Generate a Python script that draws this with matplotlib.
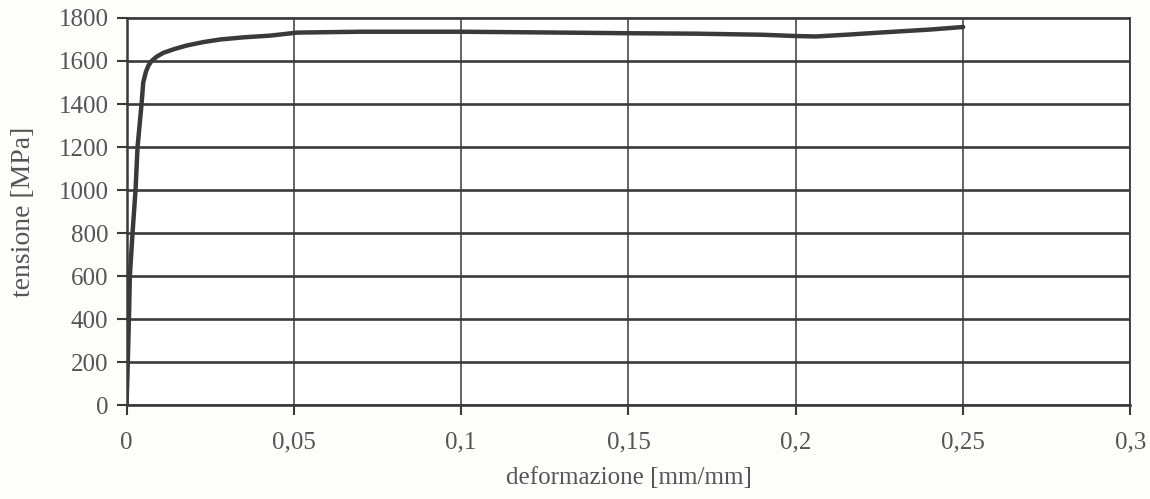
import numpy as np
import matplotlib.pyplot as plt
from matplotlib.ticker import FuncFormatter

# curva tensione-deformazione
deformazione = [0, 0.0003, 0.0008, 0.0010, 0.0018, 0.0027, 0.0033, 0.0045,
                0.0050, 0.0058, 0.0066, 0.0075, 0.0090, 0.0110, 0.0144, 0.018,
                0.023, 0.028, 0.035, 0.043, 0.051, 0.070, 0.100, 0.130,
                0.150, 0.170, 0.190, 0.200, 0.206, 0.215, 0.225, 0.240, 0.250]
tensione = [0, 150, 450, 600, 800, 1000, 1200, 1400,
            1500, 1550, 1580, 1600, 1620, 1638, 1656, 1672,
            1688, 1700, 1710, 1718, 1732, 1736, 1736, 1732,
            1729, 1727, 1722, 1716, 1714, 1722, 1732, 1746, 1758]

x_ticks = [0, 0.05, 0.1, 0.15, 0.2, 0.25, 0.3]
y_ticks = list(range(0, 1801, 200))

ink = '#3a3a3a'
grey = '#555555'
plt.rcParams['font.family'] = ['Liberation Serif', 'DejaVu Serif']

fig = plt.figure(figsize=(11.5, 4.99), dpi=100)
ax = fig.add_axes([0.110, 0.188, 0.873, 0.776])

ax.plot(deformazione, tensione, color=ink, lw=3.2, solid_capstyle='round',
        solid_joinstyle='round', zorder=3)

ax.set_xlim(0, 0.3)
ax.set_ylim(0, 1800)
ax.set_xticks(x_ticks)
ax.set_yticks(y_ticks)
ax.xaxis.set_major_formatter(FuncFormatter(lambda v, p: ('%g' % v).replace('.', ',')))

ax.grid(axis='y', color=ink, lw=1.9)
ax.grid(axis='x', color=ink, lw=1.1)
ax.set_axisbelow(True)
for s in ax.spines.values():
    s.set_color(ink)
    s.set_linewidth(1.3)
ax.spines['left'].set_linewidth(1.8)
ax.spines['bottom'].set_linewidth(1.9)

ax.tick_params(axis='both', colors=ink, labelcolor=grey, labelsize=18,
               length=7, width=1.5)
ax.tick_params(axis='y', pad=6)
ax.tick_params(axis='x', pad=12)

ax.set_xlabel('deformazione [mm/mm]', fontsize=18, color=grey, labelpad=10)
ax.set_ylabel('tensione [MPa]', fontsize=20, color=grey, labelpad=16)

fig.savefig('out.png', dpi=100, facecolor='#fdfdfc')
